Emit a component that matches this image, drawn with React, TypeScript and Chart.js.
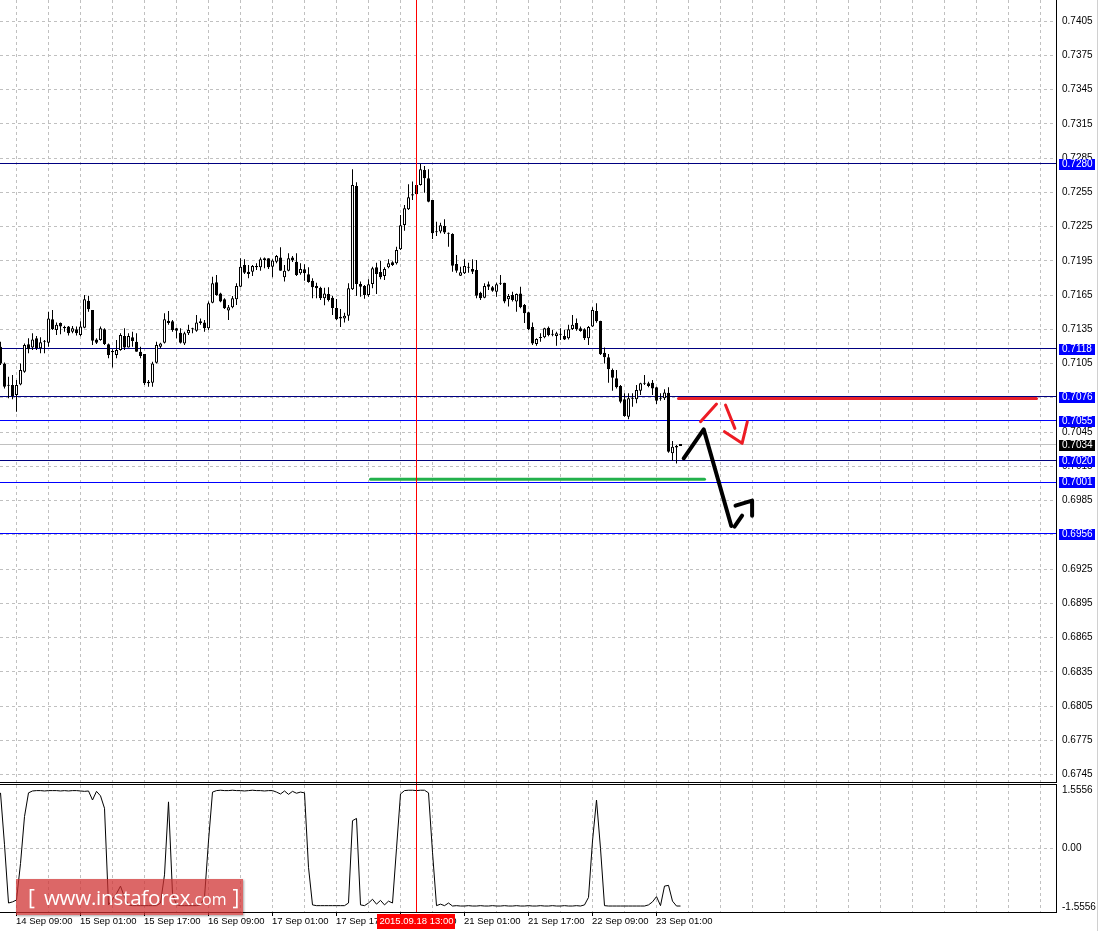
import React, { useEffect, useRef } from "react";
import { Chart, registerables } from "chart.js";

Chart.register(...registerables);

const FONT = '"Liberation Sans", Arial, sans-serif';
const XFONT = '"Liberation Sans Narrow", "Liberation Sans", Arial, sans-serif';

// ---- price axis ----
const priceTicks = [
  0.7405, 0.7375, 0.7345, 0.7315, 0.7285, 0.7255, 0.7225, 0.7195, 0.7165, 0.7135, 0.7105, 0.7075,
  0.7045, 0.7015, 0.6985, 0.6955, 0.6925, 0.6895, 0.6865, 0.6835, 0.6805, 0.6775, 0.6745,
];
const priceMin = 0.673863;
const priceMax = 0.74234;

// ---- H1 candles: [open, high, low, close] ----
const candles: number[][] = [
  [0.71198, 0.71242, 0.71038, 0.71052], [0.71052, 0.7106, 0.70833, 0.70848], [0.70862, 0.70935, 0.70746, 0.70857],
  [0.70862, 0.7095, 0.70737, 0.70766], [0.70775, 0.70906, 0.70629, 0.70862], [0.70868, 0.71052, 0.7086, 0.70994],
  [0.70979, 0.71227, 0.7097, 0.71213], [0.71219, 0.71271, 0.7114, 0.71175], [0.71192, 0.71315, 0.71169, 0.71262],
  [0.71271, 0.71292, 0.71169, 0.71184], [0.71184, 0.7128, 0.7114, 0.71236], [0.71248, 0.71257, 0.7114, 0.71242],
  [0.71233, 0.71505, 0.71198, 0.71446], [0.71438, 0.7152, 0.71344, 0.7135], [0.71344, 0.71411, 0.71301, 0.71391],
  [0.71405, 0.71411, 0.71306, 0.71376], [0.7137, 0.71382, 0.7133, 0.71359], [0.71376, 0.71379, 0.71297, 0.71315],
  [0.7133, 0.71379, 0.71315, 0.71359], [0.7135, 0.71376, 0.71297, 0.71315], [0.71301, 0.7142, 0.71289, 0.71376],
  [0.71365, 0.71651, 0.71359, 0.71613], [0.71601, 0.71645, 0.71505, 0.71525], [0.7152, 0.7152, 0.71213, 0.71251],
  [0.71262, 0.71271, 0.71222, 0.71233], [0.71257, 0.71376, 0.71251, 0.71359], [0.7135, 0.71359, 0.71213, 0.71222],
  [0.71219, 0.71227, 0.71096, 0.71125], [0.7116, 0.71175, 0.71017, 0.71149], [0.71125, 0.71257, 0.71096, 0.71169],
  [0.71169, 0.71315, 0.71163, 0.71301], [0.71292, 0.71359, 0.71169, 0.71192], [0.71192, 0.71315, 0.7119, 0.71292],
  [0.7128, 0.7133, 0.71198, 0.71248], [0.71242, 0.71315, 0.71154, 0.71154], [0.71154, 0.71198, 0.71096, 0.71116],
  [0.71134, 0.71134, 0.70862, 0.70877], [0.70892, 0.70906, 0.70848, 0.70877], [0.70883, 0.71067, 0.70848, 0.71052],
  [0.71058, 0.71242, 0.71052, 0.71213], [0.71198, 0.71233, 0.71184, 0.71227], [0.71233, 0.7149, 0.71227, 0.71438],
  [0.71426, 0.71511, 0.71391, 0.71405], [0.7142, 0.71432, 0.7133, 0.71344], [0.71359, 0.71365, 0.71271, 0.71338],
  [0.71321, 0.71359, 0.71227, 0.71233], [0.71227, 0.7133, 0.71213, 0.71315], [0.71315, 0.71391, 0.71301, 0.71344],
  [0.7135, 0.71365, 0.71315, 0.71356], [0.71338, 0.71476, 0.7133, 0.71411], [0.7142, 0.71446, 0.71391, 0.71405],
  [0.71411, 0.71432, 0.7133, 0.71359], [0.71359, 0.71593, 0.71344, 0.71578], [0.71584, 0.71811, 0.71578, 0.71753],
  [0.71762, 0.71826, 0.71645, 0.71651], [0.71665, 0.71671, 0.71587, 0.71593], [0.71613, 0.71622, 0.71528, 0.71534],
  [0.71514, 0.71563, 0.71432, 0.71543], [0.71543, 0.71642, 0.71534, 0.71622], [0.71613, 0.71753, 0.71563, 0.7173],
  [0.71724, 0.71972, 0.71718, 0.71899], [0.71914, 0.71963, 0.71835, 0.71846], [0.71855, 0.71914, 0.71797, 0.71835],
  [0.71855, 0.71914, 0.71817, 0.71905], [0.71905, 0.71928, 0.7187, 0.71893], [0.71893, 0.7198, 0.71864, 0.71963],
  [0.71972, 0.7198, 0.71884, 0.71957], [0.71972, 0.71972, 0.71879, 0.71893], [0.71899, 0.71963, 0.71806, 0.71952],
  [0.71943, 0.72001, 0.71928, 0.71992], [0.7198, 0.72068, 0.71864, 0.71864], [0.71806, 0.71914, 0.71768, 0.71864],
  [0.71864, 0.72016, 0.71858, 0.71972], [0.7198, 0.71992, 0.7194, 0.71952], [0.71943, 0.72016, 0.71817, 0.71826],
  [0.71841, 0.71928, 0.71829, 0.71879], [0.71876, 0.7192, 0.71776, 0.71841], [0.71832, 0.71893, 0.71759, 0.71765],
  [0.71776, 0.71797, 0.71622, 0.71718], [0.7173, 0.71759, 0.71622, 0.71709], [0.71715, 0.71724, 0.71607, 0.71622],
  [0.71622, 0.71715, 0.7156, 0.71665], [0.71659, 0.71718, 0.71593, 0.71607], [0.71627, 0.71642, 0.71476, 0.71537],
  [0.71537, 0.71616, 0.71432, 0.71438], [0.71446, 0.71528, 0.7137, 0.71461], [0.71446, 0.71496, 0.71411, 0.7147],
  [0.7147, 0.71753, 0.71426, 0.71709], [0.71701, 0.72752, 0.71695, 0.72614], [0.72606, 0.72638, 0.71642, 0.71747],
  [0.71747, 0.71768, 0.71636, 0.71724], [0.7173, 0.71738, 0.71619, 0.71651], [0.71651, 0.71788, 0.71636, 0.71744],
  [0.71747, 0.71899, 0.71709, 0.71884], [0.71893, 0.71934, 0.71659, 0.71835], [0.71852, 0.71949, 0.71788, 0.71806],
  [0.71817, 0.71893, 0.71782, 0.71879], [0.71893, 0.71963, 0.71884, 0.71928], [0.71937, 0.71946, 0.71905, 0.71914],
  [0.71928, 0.72074, 0.71917, 0.72045], [0.72051, 0.72352, 0.72045, 0.72261], [0.72264, 0.72439, 0.72214, 0.7241],
  [0.72401, 0.7262, 0.72395, 0.72506], [0.72521, 0.72644, 0.72483, 0.72533], [0.72533, 0.72623, 0.72527, 0.72614],
  [0.72614, 0.728, 0.72609, 0.72752], [0.72746, 0.72781, 0.72547, 0.72673], [0.72673, 0.72752, 0.72463, 0.72468],
  [0.72483, 0.72483, 0.72141, 0.72191], [0.72206, 0.72293, 0.72168, 0.722], [0.72206, 0.72284, 0.72191, 0.72261],
  [0.72255, 0.72314, 0.72185, 0.72197], [0.72191, 0.72197, 0.72074, 0.72188], [0.72185, 0.72191, 0.71855, 0.71908],
  [0.71922, 0.72001, 0.71846, 0.71864], [0.7182, 0.71899, 0.71817, 0.71849], [0.71841, 0.71963, 0.71835, 0.71905],
  [0.71896, 0.71934, 0.71846, 0.7189], [0.71879, 0.71963, 0.71835, 0.71855], [0.7187, 0.71957, 0.71622, 0.71645],
  [0.71671, 0.7168, 0.71607, 0.71622], [0.71627, 0.71753, 0.71622, 0.7173], [0.71744, 0.71768, 0.71695, 0.71724],
  [0.71718, 0.7173, 0.7168, 0.71689], [0.7168, 0.71759, 0.71636, 0.71744], [0.71756, 0.71826, 0.71738, 0.7175],
  [0.71759, 0.71759, 0.71578, 0.71593], [0.71613, 0.71659, 0.71549, 0.71642], [0.71651, 0.7168, 0.71593, 0.71607],
  [0.71593, 0.71665, 0.71505, 0.71659], [0.71665, 0.71724, 0.71534, 0.71543], [0.71563, 0.71572, 0.71405, 0.7149],
  [0.71499, 0.71505, 0.71344, 0.71353], [0.7137, 0.71411, 0.71213, 0.71227], [0.71222, 0.71271, 0.71207, 0.71265],
  [0.7128, 0.71315, 0.71242, 0.71274], [0.7128, 0.71365, 0.71271, 0.71359], [0.71365, 0.71376, 0.71289, 0.71301],
  [0.71309, 0.71344, 0.71289, 0.71303], [0.71292, 0.7133, 0.71207, 0.71315], [0.71309, 0.71359, 0.71257, 0.71303],
  [0.71292, 0.71344, 0.71257, 0.71262], [0.71271, 0.71391, 0.71262, 0.7135], [0.71353, 0.71476, 0.71344, 0.71391],
  [0.71405, 0.71446, 0.71338, 0.7135], [0.71359, 0.71376, 0.7133, 0.71335], [0.7135, 0.71359, 0.71257, 0.71271],
  [0.71271, 0.71379, 0.71213, 0.7137], [0.71376, 0.71543, 0.7137, 0.7152], [0.71511, 0.71578, 0.71408, 0.7142],
  [0.71423, 0.71426, 0.71125, 0.71131], [0.71146, 0.71192, 0.71052, 0.71105], [0.71105, 0.71134, 0.70883, 0.71],
  [0.70994, 0.71008, 0.70813, 0.70927], [0.70921, 0.70994, 0.70833, 0.70842], [0.70854, 0.70862, 0.70702, 0.70716],
  [0.70737, 0.7079, 0.70585, 0.70591], [0.70585, 0.7079, 0.70562, 0.70746], [0.70749, 0.7079, 0.70673, 0.70743],
  [0.70737, 0.70862, 0.70702, 0.70819], [0.70813, 0.70883, 0.70775, 0.70877], [0.70877, 0.7095, 0.70862, 0.70874],
  [0.70877, 0.70892, 0.70842, 0.70854], [0.70883, 0.70906, 0.70775, 0.70833], [0.70842, 0.70848, 0.70696, 0.70725],
  [0.70749, 0.7079, 0.70725, 0.70743], [0.70746, 0.70825, 0.70731, 0.70798], [0.70795, 0.70842, 0.7027, 0.70278],
  [0.70264, 0.70372, 0.702, 0.70322], [0.70316, 0.70337, 0.70176, 0.70328], [0.70328, 0.70346, 0.70328, 0.70346],
];

// ---- horizontal levels ----
const levelPrices = [0.728, 0.7118, 0.7076, 0.7055, 0.702, 0.7001, 0.6956];
const levelColors = ["#000080", "#000080", "#000080", "#0000ff", "#000080", "#0000ff", "#0000ff"];
const bidPrice = 0.7034;

// ---- time axis ----
const timeTickIndex = [4, 20, 36, 52, 68, 84, 100, 116, 132, 148, 164];
const timeTickLabels = [
  "14 Sep 09:00", "15 Sep 01:00", "15 Sep 17:00", "16 Sep 09:00", "17 Sep 01:00", "17 Sep 17:00",
  "18 Sep 09:00", "21 Sep 01:00", "21 Sep 17:00", "22 Sep 09:00", "23 Sep 01:00",
];
const gridIndex = Array.from({ length: 33 }, (_, k) => 4 + 8 * k);
const markerIndex = 104;
const markerLabel = "2015.09.18 13:00";

// ---- oscillator sub-window ----
const indicator = [
  1.48, 0.1, -1.45, -1.42, -1.37, -0.4, 0.85, 1.48, 1.53, 1.54, 1.54, 1.53, 1.54, 1.54, 1.54, 1.53, 1.54, 1.53, 1.54, 1.54,
  1.53, 1.52, 1.53, 1.29, 1.52, 1.4, 1.07, -1.5, -1.35, -1.2, -1.0, -1.3, -1.5, -1.52, -1.52, -1.52, -1.52, -1.52, -1.52, -1.52,
  -1.45, -0.7, 1.24, -1.2, -1.5, -1.52, -1.52, -1.52, -1.52, -1.52, -1.5, -1.3, 0.2, 1.5, 1.54, 1.55, 1.54, 1.54, 1.55, 1.54,
  1.54, 1.53, 1.54, 1.55, 1.54, 1.54, 1.53, 1.54, 1.54, 1.5, 1.45, 1.53, 1.44, 1.52, 1.47, 1.5, 1.48, -0.5, -1.5, -1.52,
  -1.52, -1.52, -1.52, -1.52, -1.52, -1.52, -1.52, -1.45, 0.74, 0.8, -1.5, -1.52, -1.45, -1.35, -1.48, -1.38, -1.5, -1.4, -1.45, 0.0,
  1.45, 1.54, 1.55, 1.55, 1.54, 1.55, 1.55, 1.48, -0.1, -1.52, -1.48, -1.52, -1.45, -1.53, -1.52, -1.53, -1.53, -1.52, -1.53, -1.53,
  -1.52, -1.53, -1.53, -1.52, -1.53, -1.53, -1.52, -1.53, -1.53, -1.52, -1.53, -1.53, -1.52, -1.53, -1.53, -1.52, -1.53, -1.53, -1.52, -1.53,
  -1.53, -1.52, -1.53, -1.53, -1.52, -1.53, -1.5, -1.3, 0.2, 1.29, 0.0, -1.52, -1.53, -1.53, -1.53, -1.53, -1.53, -1.53, -1.53, -1.53,
  -1.53, -1.53, -1.5, -1.42, -1.28, -1.52, -1.0, -0.98, -1.4, -1.53, -1.53,
];
const indicatorTicks = [-1.5556, 0, 1.5556];
const indMin = -1.689;
const indMax = 1.689;

// ---- hand-drawn annotations (bar index, price) ----
const redLevelStroke = [{ x: 169.5, y: 0.70745 }, { x: 259, y: 0.70745 }];
const greenStroke = [{ x: 92.5, y: 0.70037 }, { x: 176, y: 0.70037 }];
const blackStroke1 = [{ x: 170.8, y: 0.70221 }, { x: 175.8, y: 0.70475 }, { x: 182.7, y: 0.69628 }];
const blackStroke2 = [{ x: 183.5, y: 0.69622 }, { x: 185.4, y: 0.69718 }];
const blackStroke3 = [{ x: 183.75, y: 0.69806 }, { x: 187.9, y: 0.6985 }, { x: 187.9, y: 0.69718 }];
const redStroke1 = [{ x: 175, y: 0.70541 }, { x: 179, y: 0.70696 }];
const redStroke2 = [{ x: 181.25, y: 0.70687 }, { x: 183.6, y: 0.70483 }];
const redStroke3 = [{ x: 181, y: 0.70454 }, { x: 185.4, y: 0.70352 }, { x: 186.7, y: 0.70541 }];

const X_MIN = -0.125;
const X_MAX = 263.875;
const GRID = "#c0c0c0";
const DASH = [3, 3];

function strokeDs(data: { x: number; y: number }[], color: string, width: number) {
  return {
    type: "line" as const,
    data,
    borderColor: color,
    borderWidth: width,
    pointRadius: 0,
    tension: 0,
    borderCapStyle: "round" as const,
    borderJoinStyle: "round" as const,
    order: 0,
  };
}

const noPad = (s: any) => {
  s.paddingTop = 0;
  s.paddingBottom = 0;
  s.paddingLeft = 0;
  s.paddingRight = 0;
};

export default function App() {
  const mainRef = useRef<HTMLCanvasElement>(null);
  const subRef = useRef<HTMLCanvasElement>(null);

  useEffect(() => {
    const wickData = candles.map((c, i) => ({ x: i, y: [c[2], c[1]] }));
    const bodyData = candles.map((c, i) => ({ x: i, y: [Math.min(c[0], c[3]), Math.max(c[0], c[3])] }));
    const bodyColors = candles.map((c) => (c[3] >= c[0] ? "#ffffff" : "#000000"));

    const mainPlugin = {
      id: "mainDeco",
      beforeDatasetsDraw(chart: any) {
        const { ctx, chartArea: a, scales } = chart;
        const y = scales.y;
        ctx.save();
        ctx.fillStyle = "#c0c0c0";
        ctx.fillRect(a.left, Math.round(y.getPixelForValue(bidPrice) - 0.5), a.right - a.left, 1);
        levelPrices.forEach((p, k) => {
          ctx.fillStyle = levelColors[k];
          ctx.fillRect(a.left, Math.round(y.getPixelForValue(p) - 0.5), a.right - a.left, 1);
        });
        ctx.restore();
      },
      afterDatasetsDraw(chart: any) {
        const { ctx, chartArea: a, scales } = chart;
        ctx.save();
        ctx.fillStyle = "#ff0000";
        ctx.fillRect(Math.floor(scales.x.getPixelForValue(markerIndex)), a.top, 1, a.bottom - a.top);
        ctx.restore();
      },
      afterDraw(chart: any) {
        const { ctx, chartArea: a, scales } = chart;
        const y = scales.y;
        ctx.save();
        ctx.fillStyle = "#000";
        ctx.fillRect(a.right, 0, 1, a.bottom + 1);
        ctx.fillRect(0, a.bottom, a.right + 1, 1);
        ctx.font = `10px ${FONT}`;
        ctx.textBaseline = "middle";
        ctx.textAlign = "left";
        const box = (p: number, bg: string) => {
          const py = Math.round(y.getPixelForValue(p));
          ctx.fillStyle = bg;
          ctx.fillRect(a.right + 3, py - 5, 36, 11);
          ctx.fillStyle = "#fff";
          ctx.fillText(p.toFixed(4), a.right + 6, py + 0.5);
        };
        levelPrices.forEach((p) => box(p, "#0000ff"));
        box(bidPrice, "#000000");
        ctx.restore();
      },
    };

    const main = new Chart(mainRef.current as HTMLCanvasElement, {
      type: "bar",
      data: {
        datasets: [
          strokeDs(redLevelStroke, "#e8232a", 3),
          strokeDs(greenStroke, "#22b14c", 3),
          strokeDs(blackStroke1, "#000000", 4),
          strokeDs(blackStroke2, "#000000", 4),
          strokeDs(blackStroke3, "#000000", 4),
          strokeDs(redStroke1, "#ed1c24", 3),
          strokeDs(redStroke2, "#ed1c24", 3),
          strokeDs(redStroke3, "#ed1c24", 3),
          {
            type: "bar",
            data: bodyData as any,
            backgroundColor: bodyColors,
            borderColor: "#000000",
            borderWidth: 1,
            borderSkipped: false,
            barThickness: 3,
            minBarLength: 1,
            grouped: false,
            inflateAmount: 0,
            order: 1,
          } as any,
          {
            type: "bar",
            data: wickData as any,
            backgroundColor: "#000000",
            borderWidth: 0,
            barThickness: 1,
            minBarLength: 1,
            grouped: false,
            inflateAmount: 0,
            order: 2,
          } as any,
        ],
      },
      options: {
        responsive: false,
        animation: false,
        devicePixelRatio: 1,
        events: [],
        layout: { padding: { left: 0, right: 0, top: 0, bottom: 1 } },
        plugins: { legend: { display: false }, tooltip: { enabled: false } },
        scales: {
          x: {
            type: "linear",
            min: X_MIN,
            max: X_MAX,
            offset: false,
            afterBuildTicks: (s: any) => {
              s.ticks = gridIndex.map((v) => ({ value: v }));
            },
            afterFit: (s: any) => {
              s.height = 0;
              noPad(s);
            },
            ticks: { display: false },
            grid: { offset: false, color: GRID, drawTicks: false, lineWidth: 1 },
            border: { display: false, dash: DASH },
          },
          y: {
            type: "linear",
            position: "right",
            min: priceMin,
            max: priceMax,
            beginAtZero: false,
            afterBuildTicks: (s: any) => {
              s.ticks = priceTicks.map((v) => ({ value: v }));
            },
            afterFit: (s: any) => {
              s.width = 43;
              noPad(s);
            },
            ticks: {
              autoSkip: false,
              color: "#000",
              padding: 6,
              font: { family: FONT, size: 10 },
              callback: (v: any) => Number(v).toFixed(4),
            },
            grid: { color: GRID, drawTicks: false, lineWidth: 1 },
            border: { display: false, dash: DASH },
          },
        },
      } as any,
      plugins: [mainPlugin],
    });

    const subPlugin = {
      id: "subDeco",
      afterDatasetsDraw(chart: any) {
        const { ctx, chartArea: a, scales } = chart;
        ctx.save();
        ctx.fillStyle = "#ff0000";
        ctx.fillRect(Math.floor(scales.x.getPixelForValue(markerIndex)), 0, 1, a.bottom);
        ctx.restore();
      },
      afterDraw(chart: any) {
        const { ctx, chartArea: a, scales } = chart;
        const x = scales.x;
        ctx.save();
        ctx.fillStyle = "#000";
        ctx.fillRect(0, a.top - 1, a.right + 1, 1);
        ctx.fillRect(a.right, a.top - 1, 1, a.bottom - a.top + 2);
        ctx.fillRect(0, a.bottom, a.right + 1, 1);
        ctx.font = `9.5px ${XFONT}`;
        ctx.textBaseline = "middle";
        ctx.textAlign = "left";
        timeTickIndex.forEach((idx, k) => {
          const px = Math.floor(x.getPixelForValue(idx));
          ctx.fillStyle = "#000";
          ctx.fillRect(px, a.bottom, 1, 4);
          ctx.fillText(timeTickLabels[k], px, a.bottom + 9.5);
        });
        const mx = Math.floor(x.getPixelForValue(markerIndex));
        ctx.fillStyle = "#ff0000";
        ctx.fillRect(mx - 39, a.bottom + 2, 78, 15);
        ctx.fillStyle = "#fff";
        ctx.textAlign = "center";
        ctx.fillText(markerLabel, mx + 0.5, a.bottom + 9.5);
        ctx.restore();
      },
    };

    const sub = new Chart(subRef.current as HTMLCanvasElement, {
      type: "line",
      data: {
        datasets: [
          {
            data: indicator.map((v, i) => ({ x: i, y: v })),
            borderColor: "#000000",
            borderWidth: 1,
            pointRadius: 0,
            tension: 0,
          },
        ],
      },
      options: {
        responsive: false,
        animation: false,
        devicePixelRatio: 1,
        events: [],
        layout: { padding: { left: 0, right: 0, top: 2, bottom: 0 } },
        plugins: { legend: { display: false }, tooltip: { enabled: false } },
        scales: {
          x: {
            type: "linear",
            min: X_MIN,
            max: X_MAX,
            offset: false,
            afterBuildTicks: (s: any) => {
              s.ticks = gridIndex.map((v) => ({ value: v }));
            },
            afterFit: (s: any) => {
              s.height = 19;
              noPad(s);
            },
            ticks: { display: false },
            grid: { offset: false, color: GRID, drawTicks: false, lineWidth: 1 },
            border: { display: false, dash: DASH },
          },
          y: {
            type: "linear",
            position: "right",
            min: indMin,
            max: indMax,
            afterBuildTicks: (s: any) => {
              s.ticks = indicatorTicks.map((v) => ({ value: v }));
            },
            afterFit: (s: any) => {
              s.width = 43;
              noPad(s);
            },
            ticks: {
              autoSkip: false,
              color: "#000",
              padding: 6,
              font: { family: FONT, size: 10 },
              callback: (v: any) => (Number(v) === 0 ? "0.00" : Number(v).toFixed(4)),
            },
            grid: {
              color: (c: any) => (c.tick && c.tick.value === 0 ? GRID : "rgba(0,0,0,0)"),
              drawTicks: false,
              lineWidth: 1,
            },
            border: { display: false, dash: DASH },
          },
        },
      } as any,
      plugins: [subPlugin],
    });

    return () => {
      main.destroy();
      sub.destroy();
    };
  }, []);

  return (
    <div style={{ position: "fixed", left: 0, top: 0, width: 1099, height: 931, background: "#ffffff", overflow: "hidden" }}>
      <canvas ref={mainRef} width={1099} height={783} style={{ position: "absolute", left: 0, top: 0, width: 1099, height: 783 }} />
      <canvas ref={subRef} width={1099} height={148} style={{ position: "absolute", left: 0, top: 783, width: 1099, height: 148 }} />
      <div style={{ position: "absolute", left: 1097, top: 0, width: 1, height: 931, background: "#d0d0d0" }} />
      <div
        style={{
          position: "absolute",
          left: 16,
          top: 879,
          width: 227,
          height: 36,
          background: "rgba(208,50,50,0.74)",
          boxShadow: "1px 1px 2px rgba(0,0,0,0.35)",
          color: "#ffffff",
          fontFamily: '"Open Sans", "Noto Sans", sans-serif',
          display: "flex",
          alignItems: "center",
          whiteSpace: "nowrap",
          lineHeight: 1,
        }}
      >
        <span style={{ fontSize: 21, marginLeft: 12 }}>[</span>
        <span style={{ fontSize: 20.5, marginLeft: 9, letterSpacing: -0.2 }}>www.instaforex</span>
        <span style={{ fontSize: 16, marginTop: 3 }}>.com</span>
        <span style={{ fontSize: 21, marginLeft: 6 }}>]</span>
      </div>
    </div>
  );
}
